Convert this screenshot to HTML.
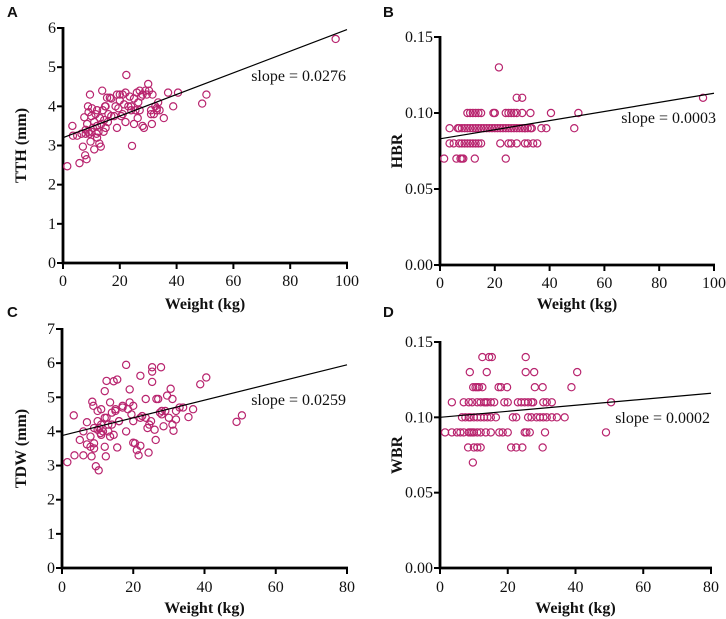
<!DOCTYPE html>
<html><head><meta charset="utf-8"><style>
body{margin:0;background:#fff}
svg{display:block}
.tk{font-family:"Liberation Serif",serif;font-size:16px;fill:#111}
.tt{font-family:"Liberation Serif",serif;font-size:16px;font-weight:bold;fill:#111}
.pl{font-family:"Liberation Sans",sans-serif;font-size:15px;font-weight:bold;fill:#111}
</style></head><body>
<svg id="chart" width="726" height="619" viewBox="0 0 726 619" xmlns="http://www.w3.org/2000/svg"></svg>
<script>
const aX=[1.5,3.3,3.5,5,5.8,6.5,7,7.5,7.8,8,8.3,8.5,8.8,9,9.3,9.5,9.7,10,10.2,10.5,11,11,11.5,12,12,12.5,12.8,13,13.3,13.5,13.8,14,14.3,14.8,15,15.5,15.8,16,16.5,17,18,18.5,19,19,19.5,20,20.5,21,21,22,22,22.3,23,23.5,24,24.3,25,25,25.5,26,26.3,26.5,27,27.5,28,28.5,29,29.5,30,30.3,31,31.3,31.5,32,32.5,33,33.5,34,35.5,37,38.8,40.5,49,50.5,96,27,20,12,10,17,24,28,14.5,11.8,9,8,15,31,33,21.5];
const aY=[2.47,3.5,3.25,3.25,2.55,3.3,2.97,3.72,2.75,3.3,2.65,3.55,4.0,3.85,3.3,4.3,3.1,3.75,3.95,3.45,3.6,2.9,3.8,3.2,3.9,3.35,3.05,3.7,2.97,3.55,4.4,3.9,3.35,4.0,3.45,4.22,3.6,3.8,4.22,3.75,3.75,4.0,4.3,3.45,3.95,4.15,3.75,4.3,3.8,4.35,3.6,4.8,4.0,4.25,3.9,2.99,4.2,3.55,3.9,4.35,3.7,4.1,3.9,4.25,3.5,3.45,4.4,4.3,4.57,4.4,3.9,3.55,4.3,3.8,4.0,3.9,4.1,3.9,3.7,4.35,4.0,4.35,4.07,4.3,5.72,4.4,4.3,3.5,3.35,4.2,4.0,4.3,3.65,3.3,3.35,3.4,4.0,3.8,3.95,4.05];
const bX=[1.5,3.5,3.5,5,6,6.5,7,7.5,8,8.5,8,9,10,11,12,13,14,15,7,8,9,10,11,12,13,14,15,16,17,18,19,20,21,22,23,24,25,26,27,28,29,30,31,32,33,10,11,12,13,14,15,19.5,20,24,25,26,27,28,30,33,40.5,50.5,12.7,24,21.5,28,30,96,22,25,26,28,31,32,34,35.5,37,38.8,49,33.5,31];
const bY=[0.07,0.09,0.08,0.08,0.07,0.09,0.08,0.07,0.07,0.07,0.08,0.08,0.08,0.08,0.08,0.08,0.08,0.08,0.09,0.09,0.09,0.09,0.09,0.09,0.09,0.09,0.09,0.09,0.09,0.09,0.09,0.09,0.09,0.09,0.09,0.09,0.09,0.09,0.09,0.09,0.09,0.09,0.09,0.09,0.09,0.10,0.10,0.10,0.10,0.10,0.10,0.10,0.10,0.10,0.10,0.10,0.10,0.10,0.10,0.10,0.10,0.10,0.07,0.07,0.13,0.11,0.11,0.11,0.08,0.08,0.08,0.08,0.08,0.08,0.08,0.08,0.09,0.09,0.09,0.09,0.09];
const cX=[1.5,3.3,3.5,5,6,6,7,7,8,8,8.3,8.5,8.8,9,9,9.5,10,10,10.3,10.5,10.8,11,11.5,12,12,12.3,12.5,12.5,13,13.5,13.5,14,14.5,14.5,15,15.5,15.5,16,17,18,18,18.5,19,19,19.5,20,20,20.5,21,21.5,22,22,22.5,23.5,23.5,24.3,24.5,25,25.3,25.3,25.3,26,26.3,26.5,27,27.5,27.8,28,28.5,29,29.5,30,30.5,31,31,31.3,32,33,34,35.5,36.8,38.8,40.5,49,50.5,11,12,13,14,15,16,10,11,9,20,28,32,24,17,22];
const cY=[3.1,4.47,3.3,3.75,3.3,4.0,4.27,3.62,3.85,3.55,3.27,4.87,4.75,3.65,3.5,2.98,4.6,4.3,2.86,4.1,3.95,4.65,4.0,5.18,3.55,3.27,5.48,4.4,4.2,4.85,3.85,4.55,5.47,3.9,4.65,5.52,3.53,4.3,4.75,5.95,4.0,4.65,5.23,4.85,4.5,4.75,3.67,3.65,3.45,3.3,5.63,3.58,4.45,4.95,4.4,3.38,4.2,4.3,5.88,5.75,5.45,4.05,3.75,4.95,4.95,4.55,5.88,4.5,4.15,4.6,5.05,4.4,5.25,4.95,4.2,4.02,4.6,4.7,4.7,4.42,4.65,5.38,5.58,4.28,4.47,4.2,4.4,4.0,4.2,4.6,4.3,4.05,3.9,4.1,4.3,4.6,4.35,4.1,4.7,4.4];
const dX=[12.5,14.5,15.3,25.3,8.8,13.8,25.3,27.8,40.5,9.8,10.5,11,11.5,12.5,17.3,18,19.8,28,30.3,38.8,3.5,7,8.5,9.5,11,12,13,13.5,14,15,16,19,20,23,24,25,26,27,27.5,30.5,31.5,33,50.5,6.5,7.5,8.5,9,10,11,12,13,14,15,16.5,21.5,22.5,26,27,28.5,29.5,30.5,31.5,33,34.5,36.8,1.5,3.5,5,6,7,8.5,9,9.5,10,11,12,13.5,15,17.5,18.5,20,25,25.5,26.5,31,49,8.3,10,11,12,21,22.5,24.3,30.3,9.7];
const dY=[0.14,0.14,0.14,0.14,0.13,0.13,0.13,0.13,0.13,0.12,0.12,0.12,0.12,0.12,0.12,0.12,0.12,0.12,0.12,0.12,0.11,0.11,0.11,0.11,0.11,0.11,0.11,0.11,0.11,0.11,0.11,0.11,0.11,0.11,0.11,0.11,0.11,0.11,0.11,0.11,0.11,0.11,0.11,0.10,0.10,0.10,0.10,0.10,0.10,0.10,0.10,0.10,0.10,0.10,0.10,0.10,0.10,0.10,0.10,0.10,0.10,0.10,0.10,0.10,0.10,0.09,0.09,0.09,0.09,0.09,0.09,0.09,0.09,0.09,0.09,0.09,0.09,0.09,0.09,0.09,0.09,0.09,0.09,0.09,0.09,0.09,0.08,0.08,0.08,0.08,0.08,0.08,0.08,0.08,0.07];
const aXTicks=[0,20,40,60,80,100], aYTicks=["0","1","2","3","4","5","6"];
const bXTicks=[0,20,40,60,80,100], bYTicks=["0.00","0.05","0.10","0.15"];
const cXTicks=[0,20,40,60,80], cYTicks=["0","1","2","3","4","5","6","7"];
const dXTicks=[0,20,40,60,80], dYTicks=["0.00","0.05","0.10","0.15"];
const fitA=[3.2,0.0276], fitB=[0.083,0.0003], fitC=[3.88,0.0259], fitD=[0.100,0.0002];

const NS="http://www.w3.org/2000/svg", svg=document.getElementById('chart');
function mk(tag,attrs,parent){const e=document.createElementNS(NS,tag);for(const k in attrs)e.setAttribute(k,attrs[k]);(parent||svg).appendChild(e);return e;}
const panels=[
 {id:'a',L:'A',lx:7,ly:17,x0:63,x1:347,y0:263,y1:28,xmax:100,ymax:6,xs:aX,ys:aY,xt:aXTicks,yt:aYTicks,fit:fitA,yt1:'TTH (mm)',slope:'slope = 0.0276',sx:346,sy:81,xtY:286,xtitY:309,ytX:26},
 {id:'b',L:'B',lx:383,ly:17,x0:440,x1:714,y0:265,y1:37,xmax:100,ymax:0.15,xs:bX,ys:bY,xt:bXTicks,yt:bYTicks,fit:fitB,yt1:'HBR',slope:'slope = 0.0003',sx:716,sy:123,xtY:288,xtitY:309,ytX:402},
 {id:'c',L:'C',lx:7,ly:317,x0:62,x1:347,y0:568,y1:329,xmax:80,ymax:7,xs:cX,ys:cY,xt:cXTicks,yt:cYTicks,fit:fitC,yt1:'TDW (mm)',slope:'slope = 0.0259',sx:346,sy:405,xtY:592,xtitY:613,ytX:26},
 {id:'d',L:'D',lx:383,ly:317,x0:440,x1:711,y0:568,y1:342,xmax:80,ymax:0.15,xs:dX,ys:dY,xt:dXTicks,yt:dYTicks,fit:fitD,yt1:'WBR',slope:'slope = 0.0002',sx:710,sy:423,xtY:592,xtitY:613,ytX:402}
];
panels.forEach(p=>{
 const g=mk('g',{});
 
 
 const X=v=>p.x0+(v/p.xmax)*(p.x1-p.x0), Y=v=>p.y0-(v/p.ymax)*(p.y0-p.y1);
 const lab=mk('text',{x:p.lx,y:p.ly,class:'pl'},g);lab.textContent=p.L;
 
 
 const ax=mk('path',{d:`M${p.x0},${p.y1-1}V${p.y0}H${p.x1+1}`,fill:'none',stroke:'#000','stroke-width':2.8},g);
 
 
 p.xt.forEach(t=>{const x=X(t);mk('line',{x1:x,x2:x,y1:p.y0,y2:p.y0+6,stroke:'#000','stroke-width':2},g);
  const tx=mk('text',{x:x,y:p.xtY,class:'tk','text-anchor':'middle'},g);tx.textContent=t;
  
  });
 p.yt.forEach(t=>{const y=Y(parseFloat(t));mk('line',{x1:p.x0-6,x2:p.x0,y1:y,y2:y,stroke:'#000','stroke-width':2},g);
  const tx=mk('text',{x:p.x0-7,y:y+5,class:'tk','text-anchor':'end'},g);tx.textContent=t;
  
  });
 const xt=mk('text',{x:(p.x0+p.x1)/2,y:p.xtitY,class:'tt','text-anchor':'middle'},g);xt.textContent='Weight (kg)';
 
 
 const cy=(p.y0+p.y1)/2;
 const yt=mk('text',{x:p.ytX,y:cy,class:'tt','text-anchor':'middle',transform:`rotate(-90 ${p.ytX} ${cy})`},g);yt.textContent=p.yt1;
 
 
 p.xs.forEach((v,i)=>{const c=mk('circle',{cx:X(v),cy:Y(p.ys[i]),r:3.6,fill:'none',stroke:'#b8246e','stroke-width':1.2},g);
  
  });
 const fl=mk('line',{x1:X(0),y1:Y(p.fit[0]),x2:X(p.xmax),y2:Y(p.fit[0]+p.fit[1]*p.xmax),stroke:'#000','stroke-width':1.2},g);
 
 
 const sl=mk('text',{x:p.sx,y:p.sy,class:'tk','text-anchor':'end'},g);sl.textContent=p.slope;
 
 
});
</script>
</body></html>
